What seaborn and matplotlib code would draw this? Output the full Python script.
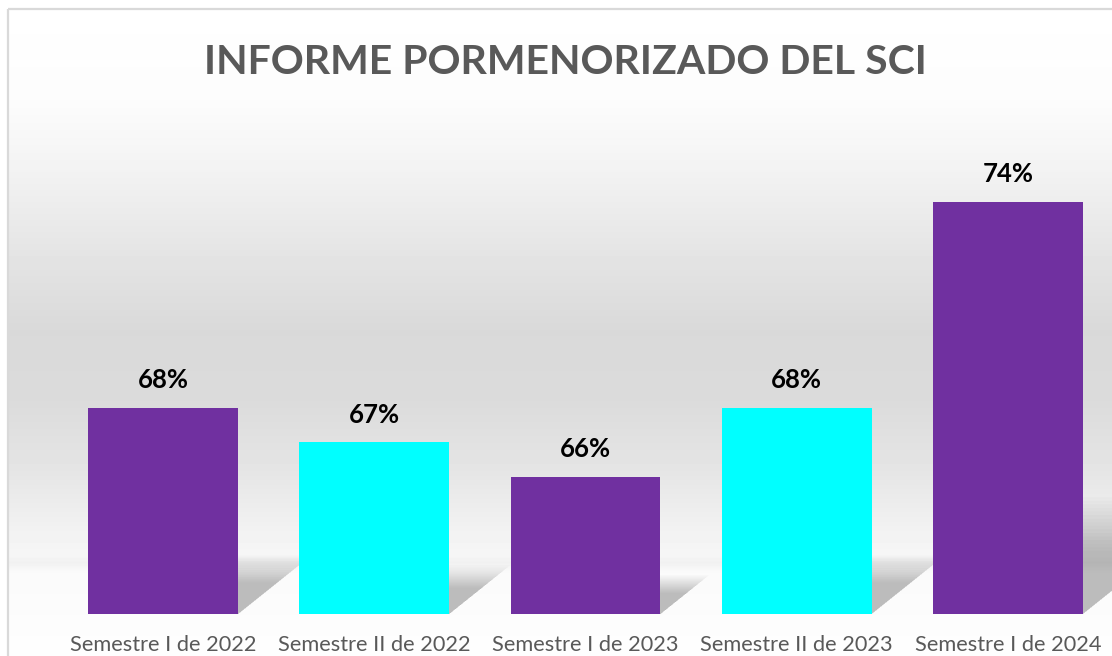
import numpy as np
import pandas as pd
import seaborn as sns
import matplotlib.pyplot as plt
from matplotlib.patches import Rectangle, Polygon

# Data
periodos = ["Semestre I de 2022", "Semestre II de 2022", "Semestre I de 2023",
            "Semestre II de 2023", "Semestre I de 2024"]
porcentajes = [68, 67, 66, 68, 74]
colores = ["#7030A0", "#00FFFF", "#7030A0", "#00FFFF", "#7030A0"]

df = pd.DataFrame({"Periodo": periodos, "Porcentaje": porcentajes})

W, H = 1112, 656
fig = plt.figure(figsize=(W / 100, H / 100), dpi=100)
fig.patch.set_facecolor("white")

# Background gradient (wall + floor)
bg = fig.add_axes([0, 0, 1, 1], zorder=-2)
ys = np.arange(H)
pts_y = [0, 100, 160, 250, 330, 400, 470, 530, 555, 562, 572, 614, 656]
pts_v = [255, 252, 244, 229, 217, 219, 229, 242, 246, 241, 250, 252, 254]
grey = np.interp(ys, pts_y, pts_v) / 255.0
img = np.repeat(grey[:, None], W, axis=1)
img[:9, :] = 1.0
img[:, :8] = 1.0
bg.imshow(img, cmap="gray", vmin=0, vmax=1, aspect="auto", extent=[0, W, H, 0])
bg.set_xlim(0, W)
bg.set_ylim(H, 0)
bg.axis("off")
bg.add_patch(Rectangle((8, 9), W, H, fill=False, edgecolor="#d9d9d9", linewidth=1.6))

ax = fig.add_axes([57.5 / W, 42 / H, 1056 / W, 481 / H])
ax.patch.set_alpha(0)

ymin, ymax = 62, 76
px_y = 481 / (ymax - ymin)
px_x = 1056 / 5

# Soft shadows behind each bar
bw = 0.71
for i, v in enumerate(porcentajes):
    dy = 0.236 * (v - ymin)
    dx = 1.25 * dy * px_y / px_x
    xl, xr = i - bw / 2, i + bw / 2
    for s in np.linspace(0.65, 1.2, 16):
        poly = Polygon([(xl, ymin), (xr, ymin), (xr + dx * s, ymin + dy * s),
                        (xl + dx * s, ymin + dy * s)],
                       closed=True, facecolor="black", edgecolor="none",
                       alpha=0.017, zorder=1)
        ax.add_patch(poly)

sns.barplot(data=df, x="Periodo", y="Porcentaje", hue="Periodo", palette=colores,
            width=bw, legend=False, saturation=1, ax=ax, zorder=3)

for bar in [p for p in ax.patches if isinstance(p, Rectangle)]:
    h = bar.get_height()
    ax.text(bar.get_x() + bar.get_width() / 2, h + 0.45, f"{h:.0f}%",
            ha="center", va="bottom", fontsize=18.5, fontweight="bold",
            color="black", family=["Lato", "DejaVu Sans"], zorder=4)

ax.set_xlim(-0.5, 4.5)
ax.set_ylim(ymin, ymax)
ax.set_xlabel("")
ax.set_ylabel("")
ax.set_yticks([])
ax.tick_params(axis="x", length=0, pad=15, labelsize=15.7, labelcolor="#595959")
for lab in ax.get_xticklabels():
    lab.set_family(["Lato", "DejaVu Sans"])
for sp in ax.spines.values():
    sp.set_visible(False)

fig.text(565 / W, 1 - 63 / H, "INFORME PORMENORIZADO DEL SCI", ha="center",
         va="center", fontsize=29.5, fontweight="bold", color="#595959",
         family=["Lato", "DejaVu Sans"])

fig.savefig("out.png", dpi=100)
